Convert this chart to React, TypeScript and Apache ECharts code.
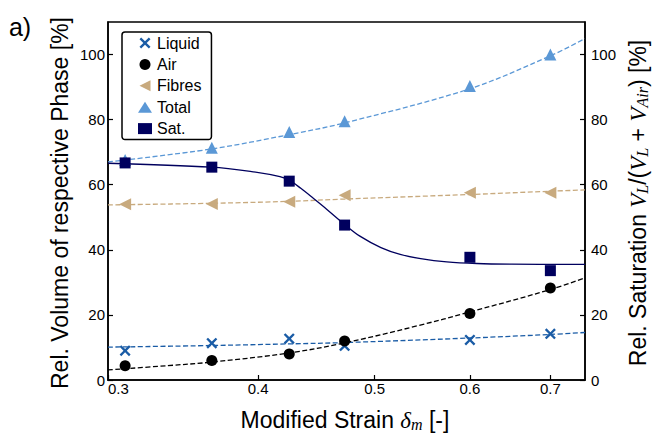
import React, { useEffect, useRef } from 'react';
import * as echarts from 'echarts';

// measured points (modified strain vs. value in %)
const strain = [0.31, 0.366, 0.4245, 0.472, 0.6, 0.7];
const liquid = [9.0, 11.3, 12.7, 10.5, 12.3, 14.2];
const air = [4.4, 6.0, 8.0, 12.0, 20.4, 28.3];
const fibres = [54.0, 54.1, 54.8, 56.8, 57.5, 57.5];
const total = [67.6, 71.4, 76.2, 79.5, 90.3, 100.0];
const sat = [66.7, 65.4, 61.1, 47.6, 37.7, 33.6];

// fit curves
const liquidFitX = [0.3, 0.366, 0.4245, 0.472, 0.6, 0.7, 0.748];
const liquidFitY = [10.1, 10.6, 11.1, 11.5, 12.9, 14.0, 14.6];
const airFitX = [0.3, 0.336, 0.366, 0.4245, 0.472, 0.542, 0.6, 0.7, 0.748];
const airFitY = [3.1, 4.4, 5.5, 8.3, 11.4, 16.6, 20.9, 27.8, 31.4];
const fibresFitX = [0.3, 0.366, 0.4245, 0.472, 0.6, 0.7, 0.748];
const fibresFitY = [53.8, 54.3, 54.9, 55.6, 57.0, 58.0, 58.4];
const totalFitX = [0.3, 0.366, 0.4245, 0.472, 0.6, 0.7, 0.748];
const totalFitY = [67.0, 71.0, 75.4, 79.0, 89.5, 99.6, 104.9];
const satFitX = [0.3, 0.366, 0.394, 0.417, 0.4245, 0.434, 0.445, 0.456, 0.472, 0.486, 0.506, 0.525, 0.546, 0.574, 0.608, 0.65, 0.748];
const satFitY = [66.6, 65.4, 64.1, 62.5, 61.4, 58.9, 55.7, 52.5, 47.8, 44.2, 40.7, 38.6, 37.3, 36.3, 35.8, 35.6, 35.5];

const xTicks = [0.3, 0.4, 0.5, 0.6, 0.7];
const yTicks = [0, 20, 40, 60, 80, 100];
const xMin = 0.3;
const xMax = 0.748;
const yMin = 0;
const yMax = 110;

const C_LIQ = '#1a5ca6';
const C_AIR = '#000000';
const C_FIB = '#c8aa7e';
const C_TOT = '#5b98d6';
const C_SAT = '#00005e';

const FONT = 'Liberation Sans';
const MATH = 'Liberation Serif';

const lg = (v: number) => Math.log10(v);
const pts = (xs: number[], ys: number[]) => xs.map((x, i) => [lg(x), ys[i]]);

const X_SYMBOL = 'path://M0,1.5L1.5,0L5,3.5L8.5,0L10,1.5L6.5,5L10,8.5L8.5,10L5,6.5L1.5,10L0,8.5L3.5,5Z';
const LEFT_TRI = 'path://M0,5L10,0L10,10Z';

export default function App() {
  const ref = useRef<HTMLDivElement>(null);
  useEffect(() => {
    if (!ref.current) return;
    const chart = echarts.init(ref.current, undefined, { renderer: 'svg' });
    const fitLine = (name: string, xs: number[], ys: number[], color: string, solid = false) => ({
      name,
      type: 'line',
      data: pts(xs, ys),
      smooth: 0.35,
      showSymbol: false,
      symbol: 'none',
      silent: true,
      z: 2,
      lineStyle: { color, width: 1.3, type: solid ? 'solid' : [5, 2.5] },
    });
    const scatter = (name: string, ys: number[], color: string, symbol: string, size: number, yAxisIndex = 0) => ({
      name,
      type: 'scatter',
      data: strain.map((x, i) => [lg(x), ys[i]]),
      symbol,
      symbolSize: size,
      yAxisIndex,
      z: 5,
      itemStyle: { color, opacity: 1 },
    });
    const yAxisBase = {
      type: 'value',
      min: yMin,
      max: yMax,
      splitLine: { show: false },
      axisLine: { show: true, lineStyle: { color: '#000', width: 1.5 } },
      axisTick: { show: true, inside: true, length: 5, customValues: yTicks, lineStyle: { color: '#000', width: 1.2 } },
      axisLabel: { customValues: yTicks, fontFamily: FONT, fontSize: 15, color: '#000' },
    };
    const richMath = {
      n: { fontFamily: FONT, fontSize: 23, lineHeight: 24, fill: '#000' },
      m: { fontFamily: MATH, fontStyle: 'italic', fontSize: 23, lineHeight: 24, fill: '#000' },
      s: { fontFamily: MATH, fontStyle: 'italic', fontSize: 16, lineHeight: 16, verticalAlign: 'bottom', fill: '#000' },
    };
    chart.setOption({
      animation: false,
      backgroundColor: '#fff',
      grid: { left: 108, right: 67, top: 22, bottom: 53, show: true, borderColor: '#000', borderWidth: 1.5 },
      legend: {
        data: ['Liquid', 'Air', 'Fibres', 'Total', 'Sat.'],
        orient: 'vertical',
        left: 122,
        top: 32,
        itemWidth: 14,
        itemHeight: 11,
        itemGap: 3.4,
        padding: [2, 10, 2, 16],
        borderColor: '#000',
        borderWidth: 1.5,
        borderRadius: 3,
        backgroundColor: '#fff',
        textStyle: { fontFamily: FONT, fontSize: 16, color: '#000', lineHeight: 18 },
      },
      xAxis: {
        type: 'value',
        min: lg(xMin),
        max: lg(xMax),
        splitLine: { show: false },
        axisLine: { show: true, lineStyle: { color: '#000', width: 1.5 } },
        axisTick: { show: true, inside: true, length: 5, customValues: xTicks.map(lg), lineStyle: { color: '#000', width: 1.2 } },
        axisLabel: {
          customValues: xTicks.map(lg),
          formatter: (v: number) => Math.pow(10, v).toFixed(1),
          fontFamily: FONT,
          fontSize: 15,
          color: '#000',
          margin: 1,
          alignMinLabel: 'left',
        },
      },
      yAxis: [
        { ...yAxisBase, position: 'left', axisLabel: { ...yAxisBase.axisLabel, margin: 3 } },
        { ...yAxisBase, position: 'right', axisLabel: { ...yAxisBase.axisLabel, margin: 6 } },
      ],
      graphic: [
        {
          type: 'text',
          x: 20,
          y: 27,
          style: { text: 'a)', fontFamily: FONT, fontSize: 25, fill: '#000', align: 'center', verticalAlign: 'middle' },
        },
        {
          type: 'text',
          x: 60,
          y: 203,
          rotation: Math.PI / 2,
          style: {
            text: 'Rel. Volume of respective Phase [%]',
            fontFamily: FONT,
            fontSize: 23,
            fill: '#000',
            align: 'center',
            verticalAlign: 'middle',
          },
        },
        {
          type: 'text',
          x: 638,
          y: 203,
          rotation: Math.PI / 2,
          style: {
            text: '{n|Rel. Saturation }{m|V}{s|L}{n|/(}{m|V}{s|L}{n| + }{m|V}{s|Air}{n|) [%]}',
            align: 'center',
            verticalAlign: 'middle',
            fill: '#000',
            rich: richMath,
          },
        },
        {
          type: 'text',
          x: 345,
          y: 420,
          style: {
            text: '{n|Modified Strain }{m|δ}{s|m}{n| [-]}',
            align: 'center',
            verticalAlign: 'middle',
            fill: '#000',
            rich: richMath,
          },
        },
      ],
      series: [
        fitLine('liqFit', liquidFitX, liquidFitY, C_LIQ),
        fitLine('airFit', airFitX, airFitY, C_AIR),
        fitLine('fibFit', fibresFitX, fibresFitY, C_FIB),
        fitLine('totFit', totalFitX, totalFitY, C_TOT),
        { ...fitLine('satFit', satFitX, satFitY, C_SAT, true), yAxisIndex: 1 },
        scatter('Liquid', liquid, C_LIQ, X_SYMBOL, 11),
        scatter('Air', air, C_AIR, 'circle', 11),
        scatter('Fibres', fibres, C_FIB, LEFT_TRI, 12),
        scatter('Total', total, C_TOT, 'triangle', 12),
        scatter('Sat.', sat, C_SAT, 'rect', 11, 1),
      ],
    });
    return () => chart.dispose();
  }, []);
  return <div ref={ref} style={{ width: 652, height: 433, position: 'absolute', left: 0, top: 0 }} />;
}
